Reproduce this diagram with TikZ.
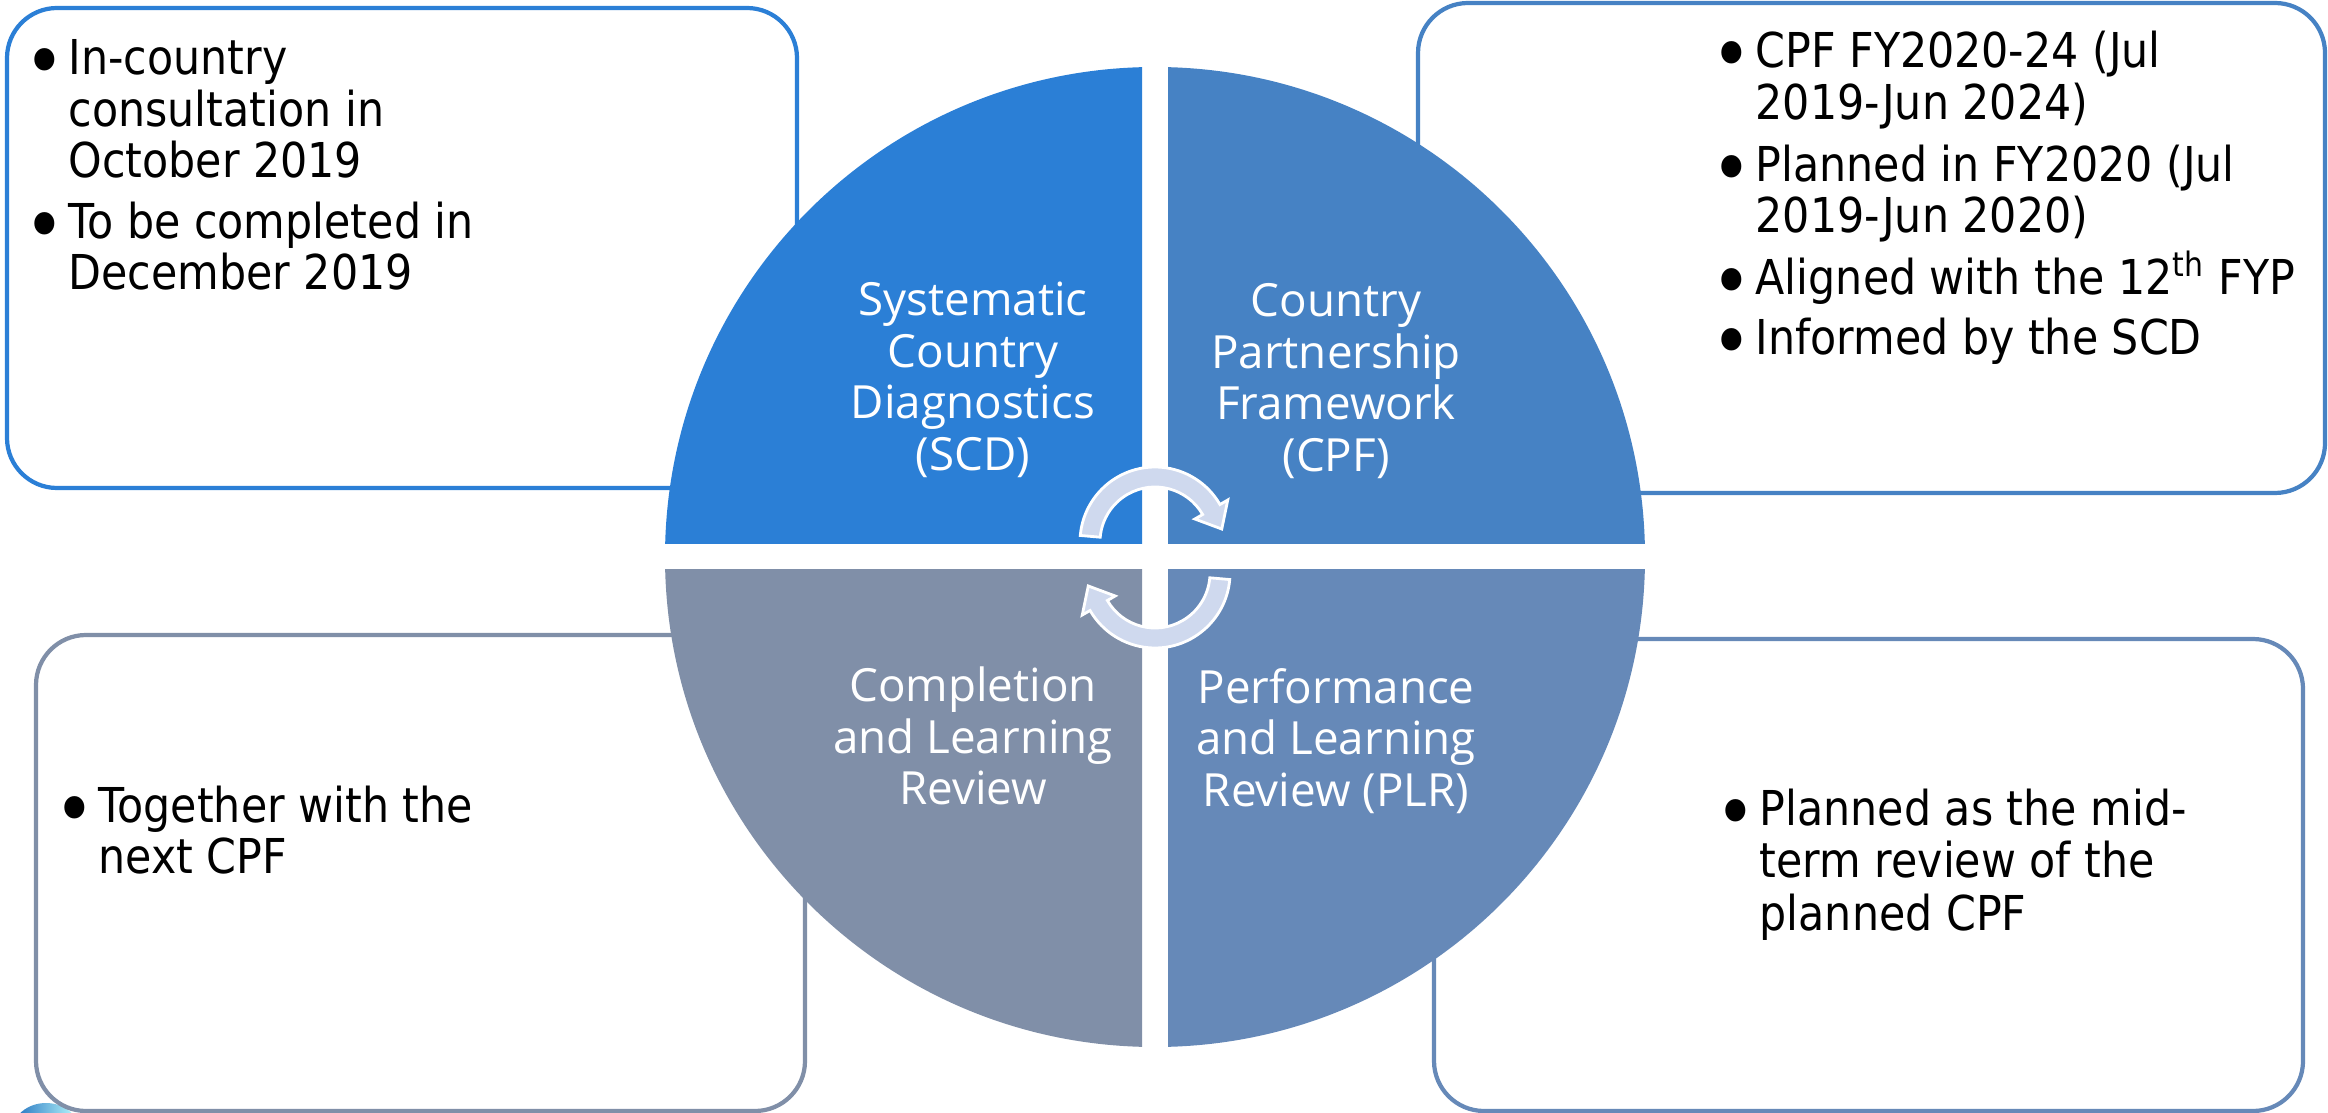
\documentclass[tikz,border=0pt]{standalone}
\usepackage{fontspec}
\usepackage{xcolor}
\usepackage{tikz}
\newfontfamily\notefont[FakeStretch=0.89]{DejaVu Sans}
\newfontfamily\stagefont{Open Sans}
\definecolor{scdcol}{RGB}{43,127,214}
\definecolor{cpfcol}{RGB}{70,130,196}
\definecolor{clrcol}{RGB}{128,143,168}
\definecolor{plrcol}{RGB}{102,137,184}
\definecolor{loopfill}{RGB}{207,217,238}
\definecolor{logoblue}{RGB}{30,110,190}
\newcommand\bul{\makebox[0pt][l]{\kern-12.5pt\raisebox{-3.98pt}{\fontsize{22}{24}\selectfont\textbullet}}}
\tikzset{
  notebox/.style={line width=1.2pt,rounded corners=0.5cm,fill=white},
  note/.style={anchor=base west,inner sep=0pt,font=\notefont\fontsize{13.66}{16}\selectfont},
  stage/.style={text=white,align=center,inner sep=0pt,font=\stagefont\fontsize{13}{14.65}\selectfont},
  cycarrow/.style={fill=loopfill,draw=white,line width=0.8pt}
}

\begin{document}
\begin{tikzpicture}[x=0.01cm,y=-0.01cm] % SCD - CPF - PLR - CLR cycle
    	\clip (0,0) rectangle (2328,1113);
    	\shade[left color=logoblue,right color=cyan!25] (46,1132) ellipse (34 and 29); % logo edge
    	
    	% note boxes behind the circle
    	\draw[notebox,draw=scdcol] (7,8) rectangle (797,488);
    	\draw[notebox,draw=cpfcol] (1418,3) rectangle (2325,493);
    	\draw[notebox,draw=clrcol] (36,635) rectangle (805,1111);
    	\draw[notebox,draw=plrcol] (1434,639) rectangle (2303,1111);
    	
    	% four quarters with a white cross between them
    	\coordinate (hub) at (1155,557);
    	\foreach \cx/\cy/\ox/\oy/\col in {1142/544/0/0/scdcol,1168/544/2328/0/cpfcol,1142/570/0/1113/clrcol,1168/570/2328/1113/plrcol}{
    		\begin{scope}
    			\clip (\cx,\cy) rectangle (\ox,\oy);
    			\fill[\col] (hub) circle (490);
    		\end{scope}
    	}
    	
    	\node[stage] (scd) at (973,380) {Systematic\\Country\\Diagnostics\\(SCD)};
    	\node[stage] (cpf) at (1336,381) {Country\\Partnership\\Framework\\(CPF)};
    	\node[stage] (clr) at (973,736) {Completion\\and Learning\\Review};
    	\node[stage] (plr) at (1336,741) {Performance\\and Learning\\Review (PLR)};
    	
    	% the two circular arrows
    	\coordinate (topc) at (1155,542);
    	\coordinate (botc) at (1155,573);
    	\draw[cycarrow] ([shift={(185:75)}]topc) arc[start angle=185,end angle=330,radius=75]
    		-- ([shift={(330:84)}]topc) -- ([shift={(349:68)}]topc) -- ([shift={(330:46)}]topc)
    		-- ([shift={(330:55)}]topc) arc[start angle=330,end angle=185,radius=55] -- cycle;
    	\draw[cycarrow] ([shift={(5:75)}]botc) arc[start angle=5,end angle=150,radius=75]
    		-- ([shift={(150:84)}]botc) -- ([shift={(169:68)}]botc) -- ([shift={(150:46)}]botc)
    		-- ([shift={(150:55)}]botc) arc[start angle=150,end angle=5,radius=55] -- cycle;
    	
    	% bullet texts
    	\foreach \y/\txt [count=\i] in {75/\bul In-country,127/consultation in,178/October 2019,239/\bul To be completed in,290/December 2019}{
    		\node[note] (scdt\i) at (68,\y) {\txt};}
    	
    	\foreach \y/\txt [count=\i] in {68/\bul CPF FY2020-24 (Jul,120/2019-Jun 2024),182/\bul Planned in FY2020 (Jul,233/2019-Jun 2020),295/\bul Aligned with the 12\textsuperscript{th} FYP,355/\bul Informed by the SCD}{
    		\node[note] (cpft\i) at (1755,\y) {\txt};}
    	
    	\foreach \y/\txt [count=\i] in {822/\bul Together with the,873/next CPF}{
    		\node[note] (clrt\i) at (98,\y) {\txt};}
    	
    	\foreach \y/\txt [count=\i] in {825/\bul Planned as the mid-,877/term review of the,930/planned CPF}{
    		\node[note] (plrt\i) at (1759,\y) {\txt};}
\end{tikzpicture}
\end{document}
